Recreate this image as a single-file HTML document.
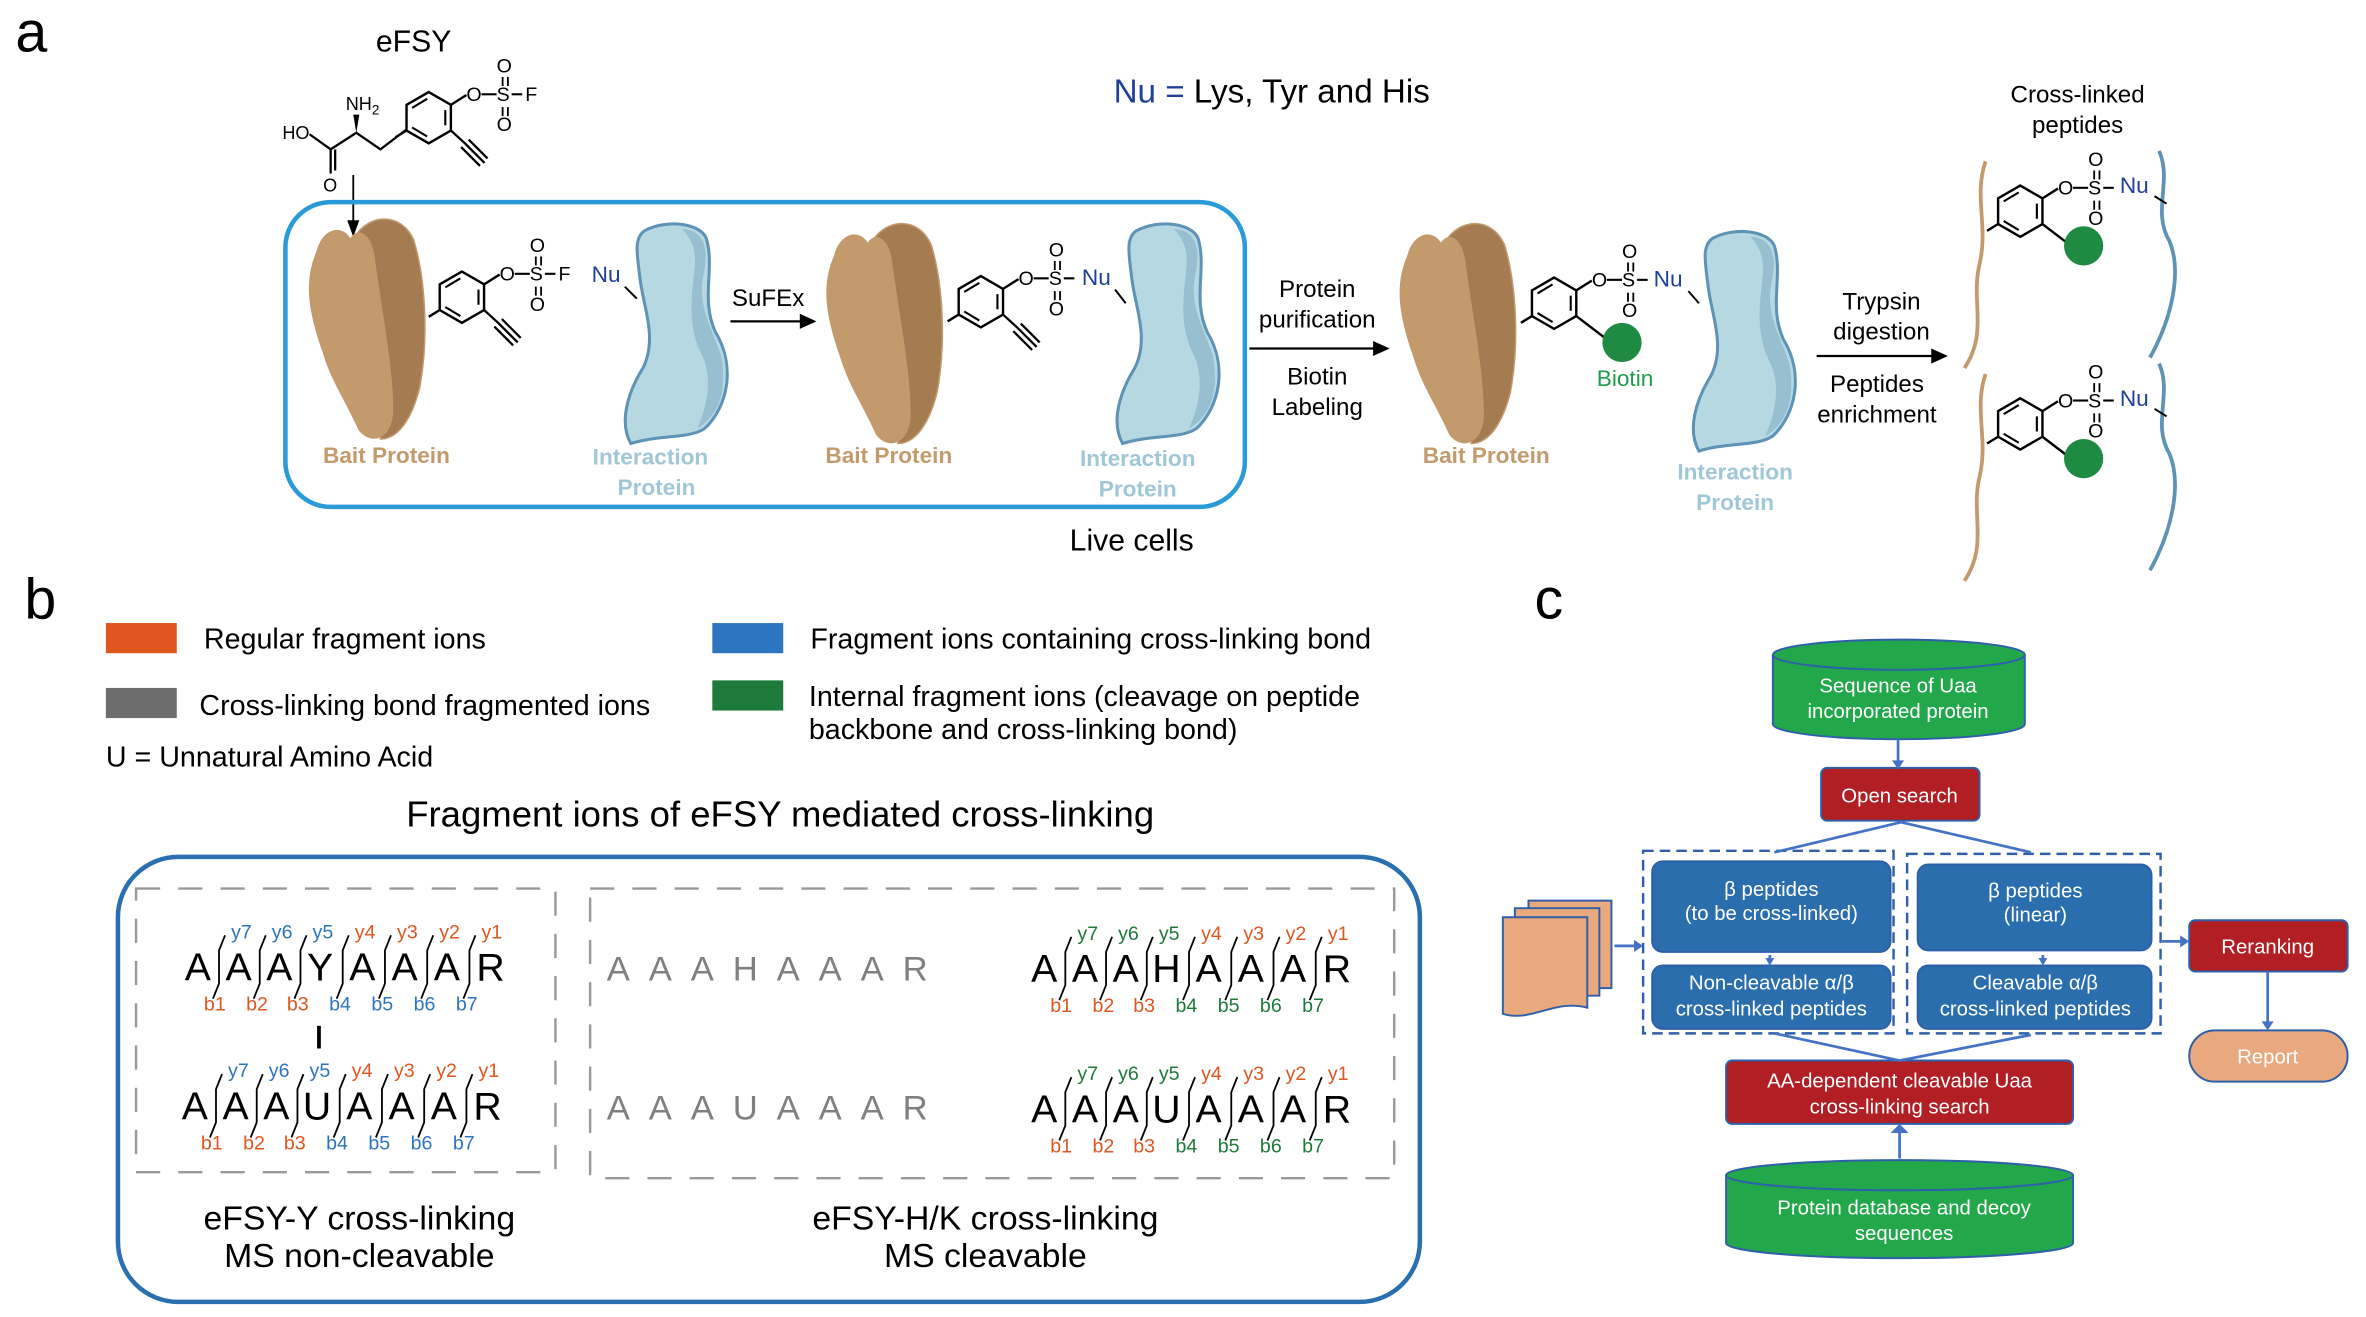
<!DOCTYPE html>
<html><head><meta charset="utf-8"><style>
html,body{margin:0;padding:0;background:#fff}
svg{display:block}
text{font-family:"Liberation Sans",Arial,sans-serif}
</style></head><body>
<svg width="2366" height="1317" viewBox="0 0 1568 873" xmlns="http://www.w3.org/2000/svg">
<defs>
<g id="bait">
<path d="M35,12 C45,-4 66,-4 74,14 C82,40 84,80 78,112 C73,132 64,146 52,146 C56,110 53,60 47,25 Z" fill="#a57c52" stroke="#c29a6c" stroke-width="1"/>
<path d="M10,22 C14,6 27,4 32,14 C36,6 46,8 48,28 C54,70 60,100 60,128 C59,146 46,150 38,140 C28,118 20,108 14,88 C4,60 2,40 10,22 Z" fill="#c29a6c" stroke="#c29a6c"/>
</g>
<g id="inter">
<path d="M15,5 C30,-3 52,0 56,10 C62,30 52,50 62,72 C76,95 70,122 55,136 C45,143 25,140 6,146 C-2,132 4,112 14,96 C24,76 14,55 12,36 C10,20 8,10 15,5 Z" fill="#b6d8e1" stroke="#5d93b6" stroke-width="2"/>
<path d="M40,4 C55,4 58,18 54,35 C50,55 60,70 66,88 C70,112 64,128 50,136 C58,118 60,100 52,85 C44,68 46,50 48,32 C50,18 46,10 40,4 Z" fill="#97bfcf"/>
</g>
<g id="ring" fill="none" stroke="#000" stroke-width="1.6">
<path d="M0,-17 L14.7,-8.5 L14.7,8.5 L0,17 L-14.7,8.5 L-14.7,-8.5 Z"/>
<path d="M-11,-6.5 L-1,-12.5 M11,-5 L11,5 M-1,12.5 L-11,6.5" stroke-width="1.4"/>
<path d="M-14.7,8.5 L-22,13 M14.7,-8.5 L25,-15"/>
</g>
<g id="alk" stroke="#000" stroke-width="1.5">
<path d="M14.7,8.5 L24,17 M24,17 L37,30 M21.5,19.5 L34,32 M26.5,14.5 L39,27"/>
</g>
<g id="so2" font-size="13">
<text x="25" y="-11">O</text>
<line x1="35" y1="-15.5" x2="45" y2="-15.5" stroke="#000" stroke-width="1.4"/>
<text x="45" y="-11">S</text>
<text x="45" y="-30">O</text>
<text x="45" y="9">O</text>
<path d="M49,-27 V-21 M52.5,-27 V-21 M49,-7 V-1 M52.5,-7 V-1" stroke="#000" stroke-width="1.2"/>
<line x1="55" y1="-15.5" x2="62" y2="-15.5" stroke="#000" stroke-width="1.4"/>
</g>
</defs>

<!-- ===== Panel a ===== -->
<text x="10" y="34" font-size="38">a</text>
<text x="274" y="34" font-size="20" text-anchor="middle">eFSY</text>
<g transform="translate(284,78)">
<use href="#ring"/><use href="#alk"/><use href="#so2"/>
<text x="64" y="-11" font-size="13">F</text>
</g>
<path d="M269,86 L252,99 L236,88 L219,99 L205,89 M219,99 V115 M222,99 V113" fill="none" stroke="#000" stroke-width="1.5"/>
<path d="M236,88 L234,76 L238,76 Z" fill="#000"/>
<text x="229" y="73" font-size="12">NH<tspan font-size="9" dy="3">2</tspan></text>
<text x="187" y="92" font-size="12">HO</text>
<text x="214" y="127" font-size="12">O</text>
<line x1="234" y1="116" x2="234" y2="148" stroke="#000" stroke-width="1.2"/>
<path d="M230,146 L238,146 L234,157 Z" fill="#000"/>
<text x="738" y="68" font-size="22"><tspan fill="#1f3f99">Nu =</tspan> Lys, Tyr and His</text>

<rect x="189" y="134" width="636" height="202" rx="30" fill="none" stroke="#2a9ad8" stroke-width="3"/>
<use href="#bait" transform="translate(200,145)"/>
<g transform="translate(306,197)"><use href="#ring"/><use href="#alk"/><use href="#so2"/><text x="64" y="-11" font-size="13">F</text></g>
<text x="392" y="187" font-size="15" fill="#1f3f99">Nu</text>
<line x1="414" y1="190" x2="422" y2="198" stroke="#000" stroke-width="1.3"/>
<use href="#inter" transform="translate(412,148)"/>
<text x="256" y="307" font-size="15" fill="#c29a6c" font-weight="bold" text-anchor="middle">Bait  Protein</text>
<text x="431" y="308" font-size="15" fill="#9fc7d7" font-weight="bold" text-anchor="middle">Interaction</text>
<text x="435" y="328" font-size="15" fill="#9fc7d7" font-weight="bold" text-anchor="middle">Protein</text>
<text x="509" y="203" font-size="16" text-anchor="middle">SuFEx</text>
<line x1="484" y1="213" x2="532" y2="213" stroke="#000" stroke-width="1.5"/>
<path d="M530,208 L541,213 L530,218 Z" fill="#000"/>
<use href="#bait" transform="translate(543,148)"/>
<g transform="translate(650,200)"><use href="#ring"/><use href="#alk"/><use href="#so2"/></g>
<text x="717" y="189" font-size="15" fill="#1f3f99">Nu</text>
<line x1="739" y1="192" x2="746" y2="201" stroke="#000" stroke-width="1.3"/>
<use href="#inter" transform="translate(738,148)"/>
<text x="589" y="307" font-size="15" fill="#c29a6c" font-weight="bold" text-anchor="middle">Bait  Protein</text>
<text x="754" y="309" font-size="15" fill="#9fc7d7" font-weight="bold" text-anchor="middle">Interaction</text>
<text x="754" y="329" font-size="15" fill="#9fc7d7" font-weight="bold" text-anchor="middle">Protein</text>
<text x="750" y="365" font-size="20" text-anchor="middle">Live cells</text>

<text x="873" y="197" font-size="16" text-anchor="middle">Protein</text>
<text x="873" y="217" font-size="16" text-anchor="middle">purification</text>
<line x1="828" y1="231" x2="912" y2="231" stroke="#000" stroke-width="1.5"/>
<path d="M910,226 L921,231 L910,236 Z" fill="#000"/>
<text x="873" y="255" font-size="16" text-anchor="middle">Biotin</text>
<text x="873" y="275" font-size="16" text-anchor="middle">Labeling</text>

<use href="#bait" transform="translate(923,148)"/>
<g transform="translate(1030,201)"><use href="#ring"/><use href="#so2"/>
<line x1="14.7" y1="8.5" x2="35" y2="24" stroke="#000" stroke-width="1.6"/></g>
<circle cx="1075" cy="227" r="13" fill="#1e8a42"/>
<text x="1096" y="190" font-size="15" fill="#1f3f99">Nu</text>
<line x1="1119" y1="193" x2="1126" y2="201" stroke="#000" stroke-width="1.3"/>
<use href="#inter" transform="translate(1120,153)"/>
<text x="1077" y="256" font-size="15" fill="#1e9e4a" text-anchor="middle">Biotin</text>
<text x="985" y="307" font-size="15" fill="#c29a6c" font-weight="bold" text-anchor="middle">Bait  Protein</text>
<text x="1150" y="318" font-size="15" fill="#9fc7d7" font-weight="bold" text-anchor="middle">Interaction</text>
<text x="1150" y="338" font-size="15" fill="#9fc7d7" font-weight="bold" text-anchor="middle">Protein</text>

<text x="1247" y="205" font-size="16" text-anchor="middle">Trypsin</text>
<text x="1247" y="225" font-size="16" text-anchor="middle">digestion</text>
<line x1="1204" y1="236" x2="1282" y2="236" stroke="#000" stroke-width="1.5"/>
<path d="M1280,231 L1291,236 L1280,241 Z" fill="#000"/>
<text x="1244" y="260" font-size="16" text-anchor="middle">Peptides</text>
<text x="1244" y="280" font-size="16" text-anchor="middle">enrichment</text>

<text x="1377" y="68" font-size="16" text-anchor="middle">Cross-linked</text>
<text x="1377" y="88" font-size="16" text-anchor="middle">peptides</text>
<g id="pep1">
<path d="M1316,107 C1308,130 1318,150 1312,175 C1306,200 1318,220 1302,244" fill="none" stroke="#c29a6c" stroke-width="2.5"/>
<path d="M1431,100 C1440,120 1426,140 1438,160 C1446,180 1440,210 1425,237" fill="none" stroke="#5d93b6" stroke-width="2.5"/>
<g transform="translate(1339,140)"><use href="#ring"/><use href="#so2"/>
<line x1="14.7" y1="8.5" x2="35" y2="24" stroke="#000" stroke-width="1.6"/></g>
<circle cx="1381" cy="163" r="13" fill="#1e8a42"/>
<text x="1405" y="128" font-size="15" fill="#1f3f99">Nu</text>
<line x1="1428" y1="130" x2="1436" y2="135" stroke="#000" stroke-width="1.3"/>
</g>
<use href="#pep1" transform="translate(0,141)"/>

<!-- ===== Panel b ===== -->
<text x="16" y="410" font-size="38">b</text>
<rect x="70" y="413" width="47" height="20" fill="#e0561f"/>
<text x="135" y="430" font-size="19">Regular fragment ions</text>
<rect x="70" y="456" width="47" height="20" fill="#6d6d6d"/>
<text x="132" y="474" font-size="19">Cross-linking bond fragmented ions</text>
<text x="70" y="508" font-size="19">U = Unnatural Amino Acid</text>
<rect x="472" y="413" width="47" height="20" fill="#2e75c0"/>
<text x="537" y="430" font-size="19">Fragment ions containing cross-linking bond</text>
<rect x="472" y="451" width="47" height="20" fill="#1d7a3a"/>
<text x="536" y="468" font-size="19">Internal fragment ions (cleavage on peptide</text>
<text x="536" y="490" font-size="19">backbone and cross-linking bond)</text>
<text x="517" y="548" font-size="24.2" text-anchor="middle">Fragment ions of eFSY mediated cross-linking</text>

<rect x="78" y="568" width="863" height="295" rx="40" fill="none" stroke="#2a6fb0" stroke-width="3"/>
<rect x="90" y="589" width="278" height="188" fill="none" stroke="#999" stroke-width="1.6" stroke-dasharray="16 12"/>
<rect x="391" y="589" width="533" height="192" fill="none" stroke="#999" stroke-width="1.6" stroke-dasharray="16 12"/>

<g transform="translate(131,650)">
<g font-size="26" text-anchor="middle"><text x="0">A</text><text x="27">A</text><text x="54">A</text><text x="81">Y</text><text x="109">A</text><text x="137">A</text><text x="165">A</text><text x="194">R</text></g>
<path d="M18,-30 L14,-20 V2 L10,12 M45,-30 L41,-20 V2 L37,12 M72,-30 L68,-20 V2 L64,12 M100,-30 L96,-20 V2 L92,12 M128,-30 L124,-20 V2 L120,12 M156,-30 L152,-20 V2 L148,12 M184,-30 L180,-20 V2 L176,12" fill="none" stroke="#000" stroke-width="1.2"/>
<g font-size="13">
<text x="22" y="-28" fill="#2e75c0">y7</text><text x="49" y="-28" fill="#2e75c0">y6</text><text x="76" y="-28" fill="#2e75c0">y5</text><text x="104" y="-28" fill="#e0561f">y4</text><text x="132" y="-28" fill="#e0561f">y3</text><text x="160" y="-28" fill="#e0561f">y2</text><text x="188" y="-28" fill="#e0561f">y1</text>
<text x="4" y="20" fill="#e0561f">b1</text><text x="32" y="20" fill="#e0561f">b2</text><text x="59" y="20" fill="#e0561f">b3</text><text x="87" y="20" fill="#2e75c0">b4</text><text x="115" y="20" fill="#2e75c0">b5</text><text x="143" y="20" fill="#2e75c0">b6</text><text x="171" y="20" fill="#2e75c0">b7</text>
</g></g>
<rect x="210" y="680" width="2.5" height="15" fill="#000"/>
<g transform="translate(129,742)">
<g font-size="26" text-anchor="middle"><text x="0">A</text><text x="27">A</text><text x="54">A</text><text x="81">U</text><text x="109">A</text><text x="137">A</text><text x="165">A</text><text x="194">R</text></g>
<path d="M18,-30 L14,-20 V2 L10,12 M45,-30 L41,-20 V2 L37,12 M72,-30 L68,-20 V2 L64,12 M100,-30 L96,-20 V2 L92,12 M128,-30 L124,-20 V2 L120,12 M156,-30 L152,-20 V2 L148,12 M184,-30 L180,-20 V2 L176,12" fill="none" stroke="#000" stroke-width="1.2"/>
<g font-size="13">
<text x="22" y="-28" fill="#2e75c0">y7</text><text x="49" y="-28" fill="#2e75c0">y6</text><text x="76" y="-28" fill="#2e75c0">y5</text><text x="104" y="-28" fill="#e0561f">y4</text><text x="132" y="-28" fill="#e0561f">y3</text><text x="160" y="-28" fill="#e0561f">y2</text><text x="188" y="-28" fill="#e0561f">y1</text>
<text x="4" y="20" fill="#e0561f">b1</text><text x="32" y="20" fill="#e0561f">b2</text><text x="59" y="20" fill="#e0561f">b3</text><text x="87" y="20" fill="#2e75c0">b4</text><text x="115" y="20" fill="#2e75c0">b5</text><text x="143" y="20" fill="#2e75c0">b6</text><text x="171" y="20" fill="#2e75c0">b7</text>
</g></g>

<text x="402" y="650" font-size="23" fill="#808080" letter-spacing="12.5">AAAHAAAR</text>
<text x="402" y="742" font-size="23" fill="#808080" letter-spacing="12.5">AAAUAAAR</text>

<g transform="translate(692,651)">
<g font-size="26" text-anchor="middle"><text x="0">A</text><text x="27">A</text><text x="54">A</text><text x="81">H</text><text x="109">A</text><text x="137">A</text><text x="165">A</text><text x="194">R</text></g>
<path d="M18,-30 L14,-20 V2 L10,12 M45,-30 L41,-20 V2 L37,12 M72,-30 L68,-20 V2 L64,12 M100,-30 L96,-20 V2 L92,12 M128,-30 L124,-20 V2 L120,12 M156,-30 L152,-20 V2 L148,12 M184,-30 L180,-20 V2 L176,12" fill="none" stroke="#000" stroke-width="1.2"/>
<g font-size="13">
<text x="22" y="-28" fill="#1d7a3a">y7</text><text x="49" y="-28" fill="#1d7a3a">y6</text><text x="76" y="-28" fill="#1d7a3a">y5</text><text x="104" y="-28" fill="#e0561f">y4</text><text x="132" y="-28" fill="#e0561f">y3</text><text x="160" y="-28" fill="#e0561f">y2</text><text x="188" y="-28" fill="#e0561f">y1</text>
<text x="4" y="20" fill="#e0561f">b1</text><text x="32" y="20" fill="#e0561f">b2</text><text x="59" y="20" fill="#e0561f">b3</text><text x="87" y="20" fill="#1d7a3a">b4</text><text x="115" y="20" fill="#1d7a3a">b5</text><text x="143" y="20" fill="#1d7a3a">b6</text><text x="171" y="20" fill="#1d7a3a">b7</text>
</g></g>
<g transform="translate(692,744)">
<g font-size="26" text-anchor="middle"><text x="0">A</text><text x="27">A</text><text x="54">A</text><text x="81">U</text><text x="109">A</text><text x="137">A</text><text x="165">A</text><text x="194">R</text></g>
<path d="M18,-30 L14,-20 V2 L10,12 M45,-30 L41,-20 V2 L37,12 M72,-30 L68,-20 V2 L64,12 M100,-30 L96,-20 V2 L92,12 M128,-30 L124,-20 V2 L120,12 M156,-30 L152,-20 V2 L148,12 M184,-30 L180,-20 V2 L176,12" fill="none" stroke="#000" stroke-width="1.2"/>
<g font-size="13">
<text x="22" y="-28" fill="#1d7a3a">y7</text><text x="49" y="-28" fill="#1d7a3a">y6</text><text x="76" y="-28" fill="#1d7a3a">y5</text><text x="104" y="-28" fill="#e0561f">y4</text><text x="132" y="-28" fill="#e0561f">y3</text><text x="160" y="-28" fill="#e0561f">y2</text><text x="188" y="-28" fill="#e0561f">y1</text>
<text x="4" y="20" fill="#e0561f">b1</text><text x="32" y="20" fill="#e0561f">b2</text><text x="59" y="20" fill="#e0561f">b3</text><text x="87" y="20" fill="#1d7a3a">b4</text><text x="115" y="20" fill="#1d7a3a">b5</text><text x="143" y="20" fill="#1d7a3a">b6</text><text x="171" y="20" fill="#1d7a3a">b7</text>
</g></g>

<text x="238" y="815" font-size="22.4" text-anchor="middle">eFSY-Y cross-linking</text>
<text x="238" y="840" font-size="22.4" text-anchor="middle">MS non-cleavable</text>
<text x="653" y="815" font-size="22.4" text-anchor="middle">eFSY-H/K cross-linking</text>
<text x="653" y="840" font-size="22.4" text-anchor="middle">MS cleavable</text>

<!-- ===== Panel c ===== -->
<text x="1017" y="410" font-size="38">c</text>
<g stroke="#2e5fa8" stroke-width="1.3">
<path d="M1175,434 V480 A83.5,10 0 0 0 1342,480 V434" fill="#22a84b"/>
<ellipse cx="1258.5" cy="434" rx="83.5" ry="10" fill="#22a84b"/>
<path d="M1144,779 V824 A115,10 0 0 0 1374,824 V779" fill="#22a84b"/>
<ellipse cx="1259" cy="779" rx="115" ry="10" fill="#22a84b"/>
<rect x="1207" y="509" width="105" height="35" rx="4" fill="#b11e24"/>
<rect x="1144" y="703" width="230" height="42" rx="4" fill="#b11e24"/>
<rect x="1451" y="610" width="105" height="34" rx="4" fill="#b11e24"/>
<rect x="1451" y="683" width="105" height="34" rx="17" fill="#e9a97e"/>
<rect x="1095" y="571" width="158" height="60" rx="7" fill="#2a6ead"/>
<rect x="1271" y="573" width="155" height="57" rx="7" fill="#2a6ead"/>
<rect x="1095" y="640" width="158" height="42" rx="7" fill="#2a6ead"/>
<rect x="1271" y="640" width="155" height="42" rx="7" fill="#2a6ead"/>
<path d="M1013,597 H1068 V655 H1013 Z" fill="#e9a97e"/>
<path d="M1004,602 H1060 V660 H1004 Z" fill="#e9a97e"/>
<path d="M996,608 H1052 V668 C1030,662 1015,678 996,672 Z" fill="#e9a97e"/>
</g>
<rect x="1089" y="564" width="166" height="121" fill="none" stroke="#2e5fa8" stroke-width="1.6" stroke-dasharray="7 4"/>
<rect x="1264" y="566" width="168" height="119" fill="none" stroke="#2e5fa8" stroke-width="1.6" stroke-dasharray="7 4"/>
<g stroke="#4472c4" stroke-width="1.8" fill="none">
<path d="M1258,490 V506"/>
<path d="M1260,545 L1176,565 M1260,545 L1346,565"/>
<path d="M1259,703 L1176,685 M1259,703 L1346,686"/>
<path d="M1259,768 V749"/>
<path d="M1070,627 H1085"/>
<path d="M1433,624 H1447"/>
<path d="M1503,644 V679"/>
<path d="M1173,633 V636 M1354,633 V636" stroke-dasharray="2 2"/>
</g>
<g fill="#4472c4">
<path d="M1254,504 L1262,504 L1258,510 Z"/>
<path d="M1253,751 L1265,751 L1259,745 Z"/>
<path d="M1083,623 L1083,631 L1089,627 Z"/>
<path d="M1445,620 L1445,628 L1451,624 Z"/>
<path d="M1499,677 L1507,677 L1503,683 Z"/>
<path d="M1170,635 L1176,635 L1173,640 Z"/>
<path d="M1351,635 L1357,635 L1354,640 Z"/>
</g>
<g fill="#fff" font-size="13.5" text-anchor="middle">
<text x="1258" y="459">Sequence of Uaa</text>
<text x="1258" y="476">incorporated protein</text>
<text x="1259" y="532">Open search</text>
<text x="1174" y="594">β peptides</text>
<text x="1174" y="610">(to be cross-linked)</text>
<text x="1349" y="595">β peptides</text>
<text x="1349" y="611">(linear)</text>
<text x="1174" y="656">Non-cleavable α/β</text>
<text x="1174" y="673">cross-linked peptides</text>
<text x="1349" y="656">Cleavable α/β</text>
<text x="1349" y="673">cross-linked peptides</text>
<text x="1259" y="721">AA-dependent cleavable Uaa</text>
<text x="1259" y="738">cross-linking search</text>
<text x="1262" y="805">Protein database and decoy</text>
<text x="1262" y="822">sequences</text>
<text x="1503" y="632">Reranking</text>
<text x="1503" y="705">Report</text>
</g>
</svg>
</body></html>
